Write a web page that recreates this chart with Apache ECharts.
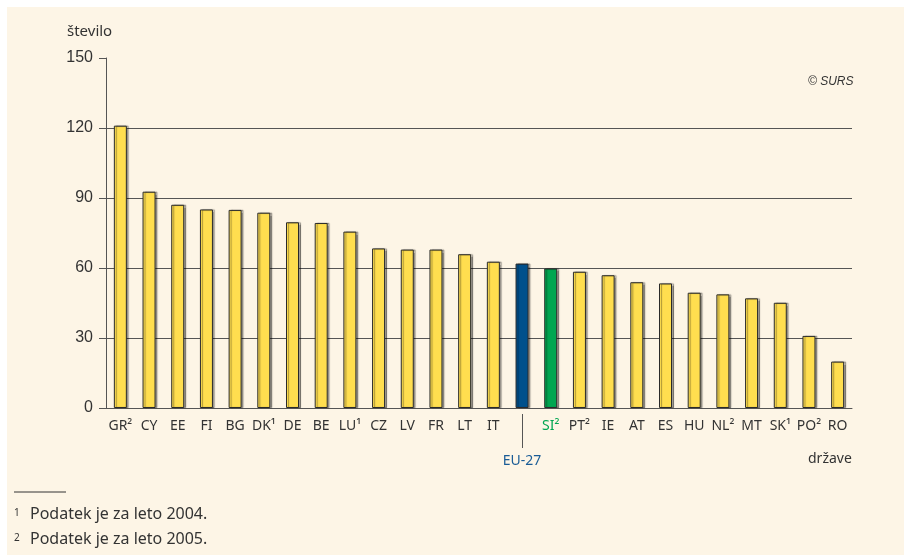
<!DOCTYPE html>
<html>
<head>
<meta charset="utf-8">
<script src="https://cdn.jsdelivr.net/npm/echarts@6/dist/echarts.min.js"></script>
<style>
  html, body { margin: 0; padding: 0; background: #ffffff; }
  #bg { position: absolute; left: 7px; top: 7px; width: 897px; height: 548px; background: #fdf5e6; }
  #chart { position: absolute; left: 0; top: 0; width: 904px; height: 555px; }
</style>
</head>
<body>
<div id="bg"></div>
<div id="chart"></div>
<script>
// države
var categories = ['GR²', 'CY', 'EE', 'FI', 'BG', 'DK¹', 'DE', 'BE', 'LU¹', 'CZ', 'LV', 'FR', 'LT', 'IT',
  'EU-27', 'SI²', 'PT²', 'IE', 'AT', 'ES', 'HU', 'NL²', 'MT', 'SK¹', 'PO²', 'RO']
// število
var values = [121, 92.7, 87.1, 85.1, 84.9, 83.7, 79.6, 79.3, 75.6, 68.4, 67.9, 67.9, 65.9, 62.7,
  61.9, 59.8, 58.4, 56.9, 53.9, 53.4, 49.4, 48.7, 47.0, 45.1, 30.9, 19.9]
var yTicks = [0, 30, 60, 90, 120, 150]
var footnotes = ['Podatek je za leto 2004.', 'Podatek je za leto 2005.']

var yellow = '#ffde4f'
var blue = '#00508c'
var green = '#00a651'
var lineColor = '#555'

var barData = values.map(function (v, i) {
  var c = yellow
  if (categories[i] === 'EU-27') c = blue
  if (categories[i] === 'SI²') c = green
  return { value: v, itemStyle: { color: c } }
})

var chart = echarts.init(document.getElementById('chart'))
var option = {
  backgroundColor: 'transparent',
  animation: false,
  grid: { left: 106, right: 52, top: 58, bottom: 147 },
  xAxis: [
    {
      type: 'category',
      data: categories,
      axisLine: { show: true, lineStyle: { color: lineColor, width: 1 } },
      axisTick: { show: false },
      axisLabel: {
        interval: 0,
        margin: 11,
        color: '#333',
        fontSize: 14,
        fontFamily: 'Noto Sans',
        formatter: function (v) {
          if (v === 'EU-27') return '{eu|' + v + '}'
          if (v === 'SI²') return '{si|' + v + '}'
          return v
        },
        rich: {
          eu: { color: '#1a5c96', fontSize: 14, fontFamily: 'Noto Sans', padding: [35, 0, 0, 0] },
          si: { color: green, fontSize: 14, fontFamily: 'Noto Sans' }
        }
      }
    },
    {
      type: 'category',
      data: categories,
      position: 'bottom',
      offset: 6,
      axisLine: { show: false },
      axisLabel: { show: false },
      axisTick: {
        show: true,
        alignWithLabel: true,
        length: 34,
        lineStyle: { color: lineColor },
        interval: function (index, value) { return value === 'EU-27' }
      }
    }
  ],
  yAxis: {
    type: 'value',
    min: yTicks[0],
    max: yTicks[yTicks.length - 1],
    interval: 30,
    axisLine: { show: true, lineStyle: { color: lineColor, width: 1 } },
    axisTick: { show: true, length: 7, lineStyle: { color: lineColor } },
    axisLabel: { margin: 13, color: '#333', fontSize: 16, fontFamily: 'Liberation Sans' },
    splitLine: {
      show: true,
      lineStyle: { color: [lineColor, lineColor, lineColor, lineColor, lineColor, 'transparent'], width: 1 }
    }
  },
  series: [
    {
      type: 'bar',
      xAxisIndex: 0,
      barWidth: 13,
      data: barData,
      itemStyle: {
        borderColor: '#2a2a2a',
        borderWidth: 1,
        shadowColor: 'rgba(0,0,0,0.35)',
        shadowOffsetX: 2,
        shadowBlur: 1
      }
    }
  ],
  graphic: [
    { type: 'text', left: 67, top: 24, style: { text: 'število', fontSize: 15, fontFamily: 'Noto Sans', fill: '#333' } },
    { type: 'text', left: 808, top: 452, style: { text: 'države', fontSize: 14, fontFamily: 'Noto Sans', fill: '#333' } },
    { type: 'text', left: 808, top: 76, style: { text: '© SURS', fontSize: 12, fontStyle: 'italic', fontFamily: 'Liberation Sans', fill: '#333' } },
    { type: 'line', shape: { x1: 14, y1: 492, x2: 66, y2: 492 }, style: { stroke: '#333', lineWidth: 1 } },
    { type: 'text', left: 14, top: 508, style: { text: '1', fontSize: 10, fontFamily: 'Noto Sans', fill: '#333' } },
    { type: 'text', left: 30, top: 506, style: { text: footnotes[0], fontSize: 16, fontFamily: 'Noto Sans', fill: '#333' } },
    { type: 'text', left: 14, top: 533, style: { text: '2', fontSize: 10, fontFamily: 'Noto Sans', fill: '#333' } },
    { type: 'text', left: 30, top: 531, style: { text: footnotes[1], fontSize: 16, fontFamily: 'Noto Sans', fill: '#333' } }
  ]
}
chart.setOption(option)
</script>
</body>
</html>
